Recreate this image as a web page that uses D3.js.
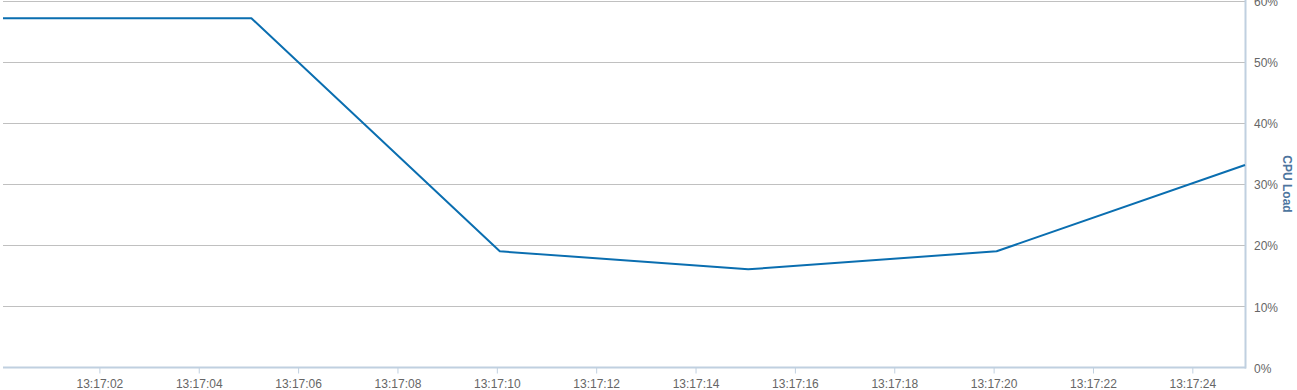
<!DOCTYPE html>
<html>
<head>
<meta charset="utf-8">
<script src="https://cdn.jsdelivr.net/npm/d3@7"></script>
<style>
  html, body { margin: 0; padding: 0; background: #fff; }
  svg { display: block; }
</style>
</head>
<body>
<div id="chart"></div>
<script>
// readings, one every 5 seconds
const times = ["13:17:00.060", "13:17:05.060", "13:17:10.060", "13:17:15.060", "13:17:20.060", "13:17:25.060"];
const cpuLoad = [57.1, 57.1, 19.0, 16.05, 19.0, 33.1];
const yTicks = [0, 10, 20, 30, 40, 50, 60];
const axisTitle = "CPU Load";

const width = 1297, height = 390;
const plot = { left: 3, right: 1245, top: 0.5, bottom: 367.5 };

const parseTime = d3.timeParse("%H:%M:%S.%L");
const data = times.map((t, i) => ({ t: parseTime(t), v: cpuLoad[i] }));

const svg = d3.select("#chart")
  .append("svg")
  .attr("width", width)
  .attr("height", height);

const x = d3.scaleTime()
  .domain(d3.extent(data, d => d.t))
  .range([plot.left, plot.right]);

const y = d3.scaleLinear()
  .domain([0, 60])
  .range([plot.bottom, plot.top]);

// grid lines
svg.append("g")
  .selectAll("line")
  .data(yTicks.filter(d => d > 0))
  .join("line")
  .attr("x1", plot.left)
  .attr("x2", plot.right)
  .attr("y1", d => Math.round(y(d)) + 0.5)
  .attr("y2", d => Math.round(y(d)) + 0.5)
  .attr("stroke", "#c0c0c0")
  .attr("stroke-width", 1);

// x axis
const xTicks = d3.timeSecond.every(2).range(x.domain()[0], x.domain()[1]);
const xAxis = svg.append("g")
  .attr("transform", `translate(0, ${plot.bottom})`)
  .call(d3.axisBottom(x)
    .tickValues(xTicks)
    .tickFormat(d3.timeFormat("%H:%M:%S"))
    .tickSize(6)
    .tickPadding(6));
xAxis.select(".domain").remove();
xAxis.selectAll(".tick line").attr("stroke", "#c0d0e0").attr("stroke-width", 1);
xAxis.selectAll(".tick text")
  .attr("fill", "#666")
  .style("font-family", "'Liberation Sans', Arial, sans-serif")
  .style("font-size", "12px");

svg.append("line")
  .attr("x1", plot.left)
  .attr("x2", plot.right + 1)
  .attr("y1", plot.bottom)
  .attr("y2", plot.bottom)
  .attr("stroke", "#c0d0e0")
  .attr("stroke-width", 2);

// right y axis
const yAxis = svg.append("g")
  .attr("transform", `translate(${plot.right}, 0)`)
  .call(d3.axisRight(y)
    .tickValues(yTicks)
    .tickFormat(d => d + "%")
    .tickSize(0)
    .tickPadding(9));
yAxis.select(".domain").remove();
yAxis.selectAll(".tick text")
  .attr("fill", "#666")
  .attr("dy", "0.4em")
  .style("font-family", "'Liberation Sans', Arial, sans-serif")
  .style("font-size", "12px");

svg.append("line")
  .attr("x1", plot.right + 0.5)
  .attr("x2", plot.right + 0.5)
  .attr("y1", 0)
  .attr("y2", plot.bottom + 1)
  .attr("stroke", "#c0d0e0")
  .attr("stroke-width", 2);

svg.append("text")
  .attr("transform", `translate(1283, ${(plot.top + plot.bottom) / 2}) rotate(90)`)
  .attr("text-anchor", "middle")
  .attr("fill", "#4d759e")
  .style("font-family", "'Liberation Sans', Arial, sans-serif")
  .style("font-size", "12px")
  .style("font-weight", "bold")
  .text(axisTitle);

// the series
svg.append("path")
  .datum(data)
  .attr("fill", "none")
  .attr("stroke", "#0a6eb0")
  .attr("stroke-width", 2)
  .attr("stroke-linejoin", "round")
  .attr("d", d3.line()
    .x(d => x(d.t))
    .y(d => y(d.v)));
</script>
</body>
</html>
